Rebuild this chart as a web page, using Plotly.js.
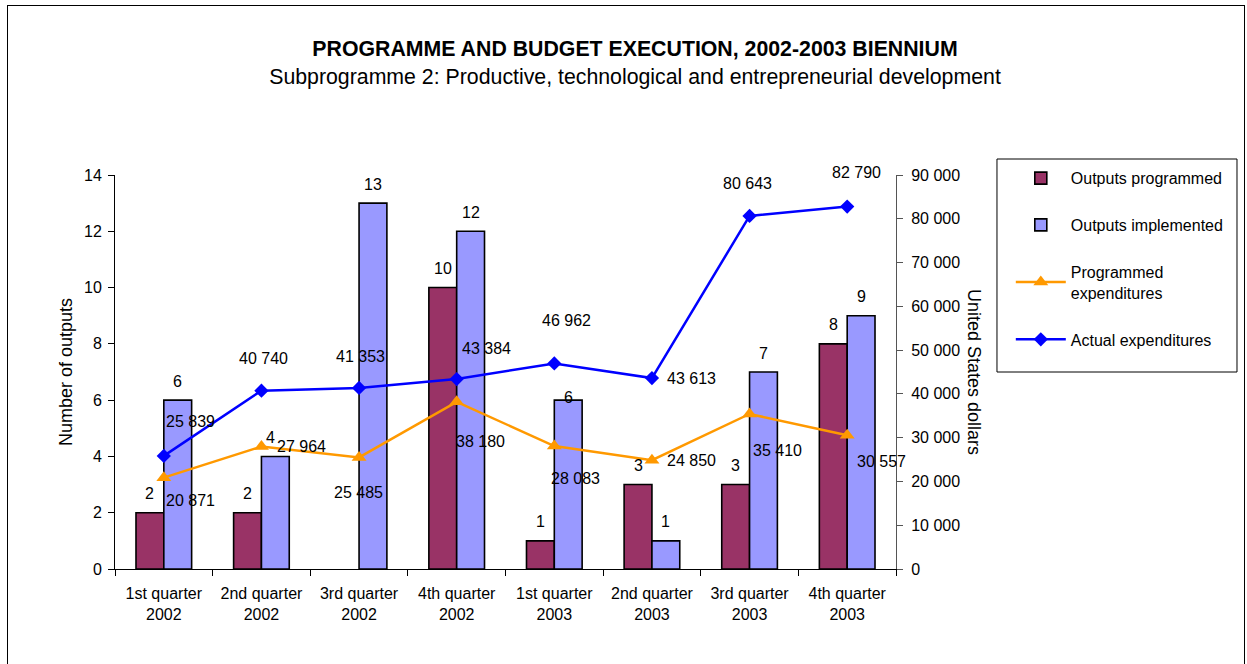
<!DOCTYPE html>
<html><head><meta charset="utf-8">
<script src="https://cdn.plot.ly/plotly-3.0.1.min.js"></script>
<style>
html,body{margin:0;padding:0;background:#fff;}
#wrap{position:relative;width:1247px;height:664px;overflow:hidden;}
#chart{position:absolute;left:0;top:0;width:1247px;height:664px;}
#frame{position:absolute;left:7px;top:5px;width:1236px;height:700px;border:1.5px solid #000;pointer-events:none;}
</style></head><body>
<div id="wrap"><div id="chart"></div><div id="frame"></div></div>
<script>
// ---- data ----
const categories = ['1st quarter<br>2002','2nd quarter<br>2002','3rd quarter<br>2002','4th quarter<br>2002',
                    '1st quarter<br>2003','2nd quarter<br>2003','3rd quarter<br>2003','4th quarter<br>2003'];
const outputsProgrammed = [2, 2, null, 10, 1, 3, 3, 8];
const outputsImplemented = [6, 4, 13, 12, 6, 1, 7, 9];
const programmedExpenditures = [20871, 27964, 25485, 38180, 28083, 24850, 35410, 30557];
const actualExpenditures = [25839, 40740, 41353, 43384, 46962, 43613, 80643, 82790];
const leftTicks = [0, 2, 4, 6, 8, 10, 12, 14];

// ---- label placement (pixel shifts, right / up) ----
const progExpShift = [[27,-23],[40,0],[-1,-35],[24,-40],[21,-32],[40,0],[28,-37],[34,-26]];
const actualShift  = [[27,34],[2,32],[1,31],[30,31],[12,43],[40,0],[-2,32],[9,34]];
const implShift    = [[0,19],[-5,19],[0,19],[0,19],[0,3],[0,19],[0,19],[0,19]];
const barLift = 19;

const FONT = 'Liberation Sans, Arial, Helvetica, sans-serif';
const fmt = v => String(v).replace(/\B(?=(\d{3})+(?!\d))/g, ' ');
const BARGAP = 0.43;
const barOff = (1 - BARGAP) / 4;

const traces = [
  {type:'bar', name:'Outputs programmed', x:categories, y:outputsProgrammed, legendgroup:'a',
   marker:{color:'#993366', line:{color:'#000', width:1.6}}, hoverinfo:'y'},
  {type:'bar', name:'Outputs implemented', x:categories, y:outputsImplemented, legendgroup:'b',
   marker:{color:'#9999FF', line:{color:'#000', width:1.6}}, hoverinfo:'y'},
  {type:'scatter', mode:'lines+markers', name:'Programmed<br>expenditures', x:categories, y:programmedExpenditures,
   yaxis:'y2', legendgroup:'c', line:{color:'#FF9900', width:2.5},
   marker:{symbol:'triangle-up', size:13, color:'#FF9900'}},
  {type:'scatter', mode:'lines+markers', name:'Actual expenditures', x:categories, y:actualExpenditures,
   yaxis:'y2', legendgroup:'d', line:{color:'#0000FF', width:2.5},
   marker:{symbol:'diamond', size:11, color:'#0000FF'}}
];

const annotations = [];
const lbl = {showarrow:false, font:{family:FONT, size:16, color:'#000'}, xanchor:'center', yanchor:'middle'};
categories.forEach((c, i) => {
  if (outputsProgrammed[i] !== null) {
    annotations.push(Object.assign({}, lbl, {xref:'x', yref:'y', x:i - barOff, y:outputsProgrammed[i],
      text:String(outputsProgrammed[i]), yshift:barLift}));
  }
  annotations.push(Object.assign({}, lbl, {xref:'x', yref:'y', x:i + barOff, y:outputsImplemented[i],
    text:String(outputsImplemented[i]), xshift:implShift[i][0], yshift:implShift[i][1]}));
  annotations.push(Object.assign({}, lbl, {xref:'x', yref:'y2', x:i, y:programmedExpenditures[i],
    text:fmt(programmedExpenditures[i]), xshift:progExpShift[i][0], yshift:progExpShift[i][1]}));
  annotations.push(Object.assign({}, lbl, {xref:'x', yref:'y2', x:i, y:actualExpenditures[i],
    text:fmt(actualExpenditures[i]), xshift:actualShift[i][0], yshift:actualShift[i][1]}));
});
annotations.push({xref:'paper', yref:'paper', x:1.1, y:0.5, text:'United States dollars', textangle:90,
  showarrow:false, font:{family:FONT, size:18, color:'#000'}, xanchor:'center', yanchor:'middle'});

const layout = {
  width:1247, height:664,
  margin:{l:115, r:351, t:175, b:95},
  paper_bgcolor:'rgba(0,0,0,0)', plot_bgcolor:'rgba(0,0,0,0)',
  font:{family:FONT, size:16, color:'#000'},
  separators:'. ',
  title:{
    text:'<b>PROGRAMME AND BUDGET EXECUTION, 2002-2003 BIENNIUM</b><br>Subprogramme 2: Productive, technological and entrepreneurial development',
    font:{family:FONT, size:21.3, color:'#000'},
    xref:'container', x:635/1247, xanchor:'center',
    yref:'container', y:1 - 56/664, yanchor:'top'
  },
  barmode:'group', bargap:BARGAP, bargroupgap:0,
  showlegend:true,
  legend:{x:1.147, y:1.035, xanchor:'left', yanchor:'top', font:{family:FONT, size:16},
          bgcolor:'rgba(0,0,0,0)', borderwidth:0, tracegroupgap:23, itemwidth:50, traceorder:'grouped'},
  xaxis:{type:'category', range:[-0.5, 7.5], tickson:'boundaries', ticks:'outside', ticklen:6, tickcolor:'#000',
         showline:true, linecolor:'#000', linewidth:1, showgrid:false, zeroline:false,
         tickfont:{family:FONT, size:16}, ticklabelstandoff:10, automargin:false},
  yaxis:{range:[0,14], tickvals:leftTicks, ticks:'outside', ticklen:6, tickcolor:'#000',
         showline:true, linecolor:'#000', linewidth:1, showgrid:false, zeroline:false,
         tickfont:{family:FONT, size:16}, ticklabelstandoff:3, automargin:false,
         title:{text:'Number of outputs', font:{family:FONT, size:18}, standoff:6}},
  yaxis2:{overlaying:'y', side:'right', range:[0,90000], dtick:10000, tickformat:',d',
          ticks:'outside', ticklen:6, tickcolor:'#555', showline:true, linecolor:'#555', linewidth:1,
          showgrid:false, zeroline:false, tickfont:{family:FONT, size:16}, ticklabelstandoff:5, automargin:false},
  shapes:[{type:'rect', xref:'paper', yref:'paper', x0:1.1293, x1:1.4366, y0:0.5, y1:1.0406,
           line:{color:'#000', width:1}, fillcolor:'rgba(0,0,0,0)'}],
  annotations:annotations
};

Plotly.newPlot('chart', traces, layout, {displayModeBar:false, staticPlot:true});
</script>
</body></html>
